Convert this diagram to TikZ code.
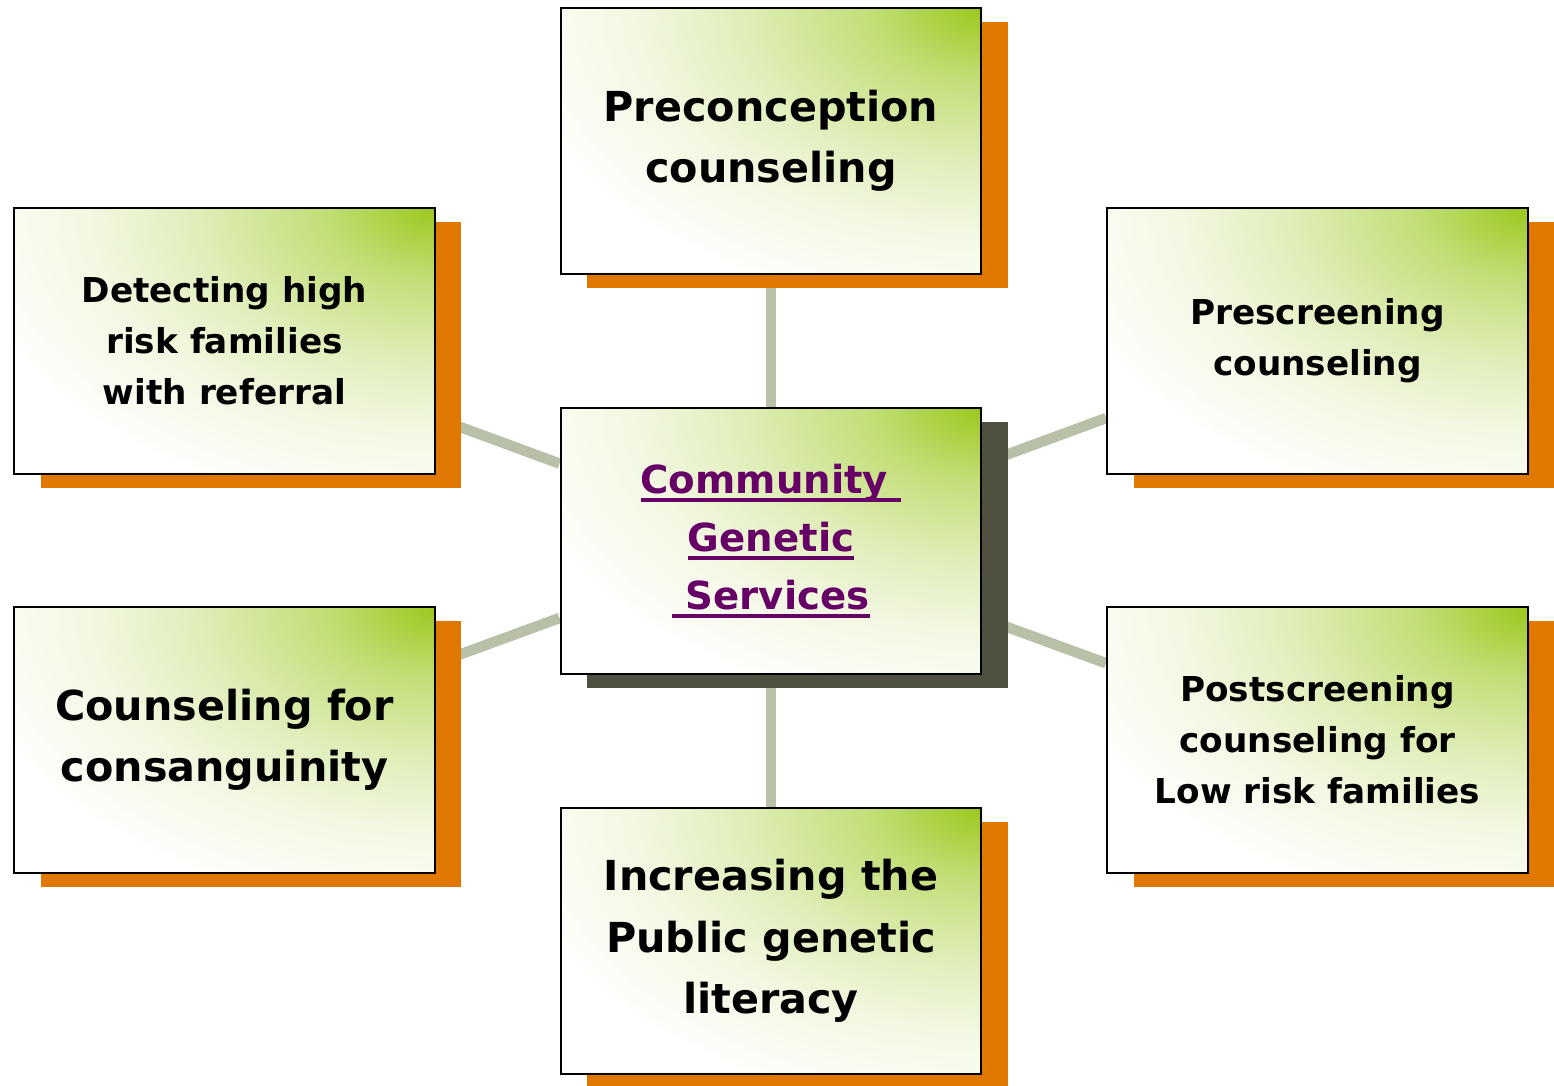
\documentclass[tikz,border=0pt]{standalone}
\usepackage{fontspec}
\setmainfont{DejaVu Sans}
\usetikzlibrary{shadows, backgrounds}
\definecolor{boxgreen}{RGB}{155,200,30}
\definecolor{shadeorange}{RGB}{224,120,0}
\definecolor{shadegray}{RGB}{79,80,64}
\definecolor{linkgray}{RGB}{185,192,168}
\definecolor{titlepurple}{RGB}{102,0,102}
\pgfdeclareradialshading{cornerglow}{\pgfpoint{0bp}{0bp}}{%
  color(0bp)=(boxgreen); color(6bp)=(boxgreen!60!white); color(12.5bp)=(boxgreen!32!white);
  color(18.5bp)=(boxgreen!13!white); color(25bp)=(boxgreen!2!white); color(50bp)=(white)}
\newcommand{\ulword}[1]{\setbox0\hbox{#1}\rlap{\vrule height -0.12em depth 0.2em width \wd0}\box0}

\begin{document}
\begin{tikzpicture}[line width=1.4pt,
  box/.style = {rectangle, draw, fill=white, minimum width=8.41cm, minimum height=5.31cm, align=center,
    font=\bfseries\fontsize{19.5}{29}\selectfont,
    path picture={\shade[shading=cornerglow] (path picture bounding box.north east)
      ellipse [x radius=9.4cm, y radius=6cm];},
    drop shadow={shadow xshift=.53cm, shadow yshift=-.28cm, fill=#1, opacity=1}},
  box/.default = shadeorange,
  big/.style = {font=\bfseries\fontsize{23.5}{35}\selectfont},
  link/.style = {draw=linkgray, line width=.21cm}]
\useasboundingbox (0,0) rectangle (31.08,21.72);

\node[box=shadegray, font=\bfseries\fontsize{22}{33}\selectfont, text=titlepurple](cgs) at (15.42,10.90)
  {\ulword{Community\ }\\ \ulword{Genetic}\\ \ulword{\ Services}};
\node[box, big](pre) at (15.42,18.90) {Preconception\\ counseling};
\node[box](det) at (4.49,14.90) {Detecting high\\ risk families\\ with referral};
\node[box](presc) at (26.35,14.90) {Prescreening\\ counseling};
\node[box, big](cons) at (4.49,6.92) {Counseling for\\ consanguinity};
\node[box](post) at (26.35,6.92) {Postscreening\\ counseling for\\ Low risk families};
\node[box, big](inc) at (15.42,2.90) {Increasing the\\ Public genetic\\ literacy};

\begin{scope}[on background layer]
\draw[link] (cgs) -- (pre);
\draw[link] (cgs) -- (det);
\draw[link] (cgs) -- (presc);
\draw[link] (cgs) -- (cons);
\draw[link] (cgs) -- (post);
\draw[link] (cgs) -- (inc);
\end{scope}

\end{tikzpicture}
\end{document}
